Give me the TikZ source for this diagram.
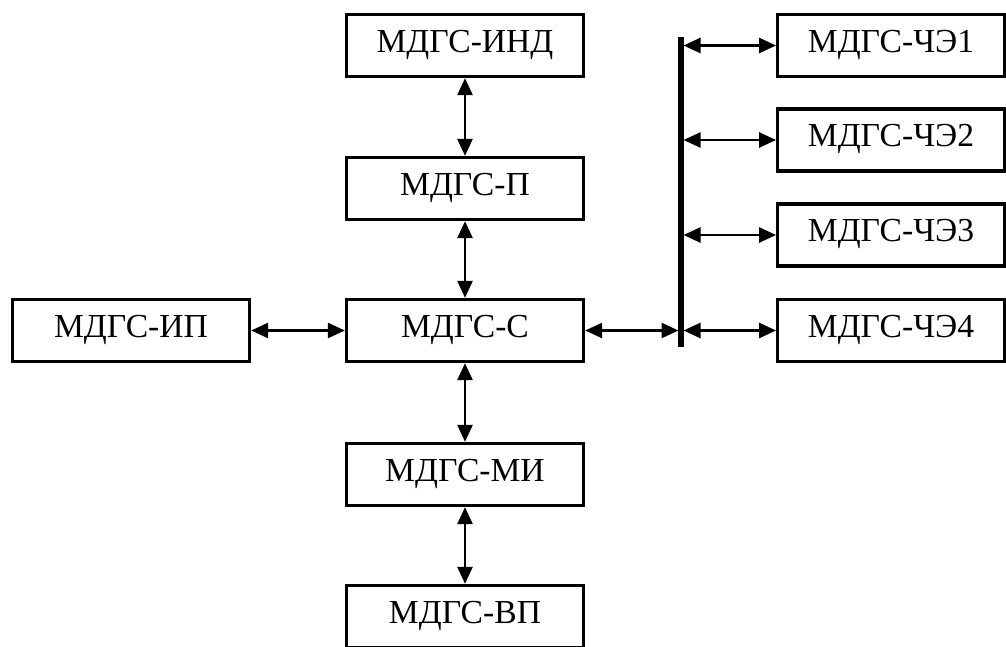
\documentclass[tikz,border=0pt]{standalone}
\usepackage{fontspec}
\setmainfont{Liberation Serif}
\usetikzlibrary{arrows.meta}
\begin{document}
\begin{tikzpicture}[x=0.5pt,y=-0.5pt,
  blk/.style={draw, line width=1.65pt, minimum width=118.5pt, minimum height=31pt,
    inner sep=0pt, font=\fontsize{16.8}{18}\selectfont, text height=0.66em, text depth=0pt},
  unit/.style={blk, minimum width=113.3pt},
  link/.style={line width=1.3pt,
    {Triangle[length=8.5pt,width=7.5pt]}-{Triangle[length=8.5pt,width=7.5pt]}},
  bus/.style={line width=2.6pt}]
\useasboundingbox (0,0) rectangle (1006,647);
\clip (0,0) rectangle (1006,647);

% central column
\node[blk] (ind) at (465,45.5)  {МДГС-ИНД};
\node[blk] (p)   at (465,188.5) {МДГС-П};
\node[blk] (c)   at (465,330.5) {МДГС-С};
\node[blk] (mi)  at (465,474.5) {МДГС-МИ};
\node[blk] (vp)  at (465,616.5) {МДГС-ВП};

% left unit
\node[blk] (ip) at (131,330.5) {МДГС-ИП};

% units on the bus
\node[unit] (e1) at (891,45.5)  {МДГС-ЧЭ1};
\node[unit] (e2) at (891,140)   {МДГС-ЧЭ2};
\node[unit] (e3) at (891,235)   {МДГС-ЧЭ3};
\node[unit] (e4) at (891,330.5) {МДГС-ЧЭ4};

% bus bar
\coordinate (btop) at (681,37);
\coordinate (bbot) at (681,347);
\draw[bus] (btop) -- (bbot);
\coordinate (bl) at (678.5,0);
\coordinate (br) at (683.5,0);

% links
\draw[link] (ind.south) -- (p.north);
\draw[link] (p.south) -- (c.north);
\draw[link] (c.south) -- (mi.north);
\draw[link] (mi.south) -- (vp.north);
\draw[link] (ip.east) -- (c.west);
\draw[link] (c.east) -- (c.east -| bl);
\draw[link] (e1.west -| br) -- (e1.west);
\draw[link] (e2.west -| br) -- (e2.west);
\draw[link] (e3.west -| br) -- (e3.west);
\draw[link] (e4.west -| br) -- (e4.west);
\end{tikzpicture}
\end{document}
